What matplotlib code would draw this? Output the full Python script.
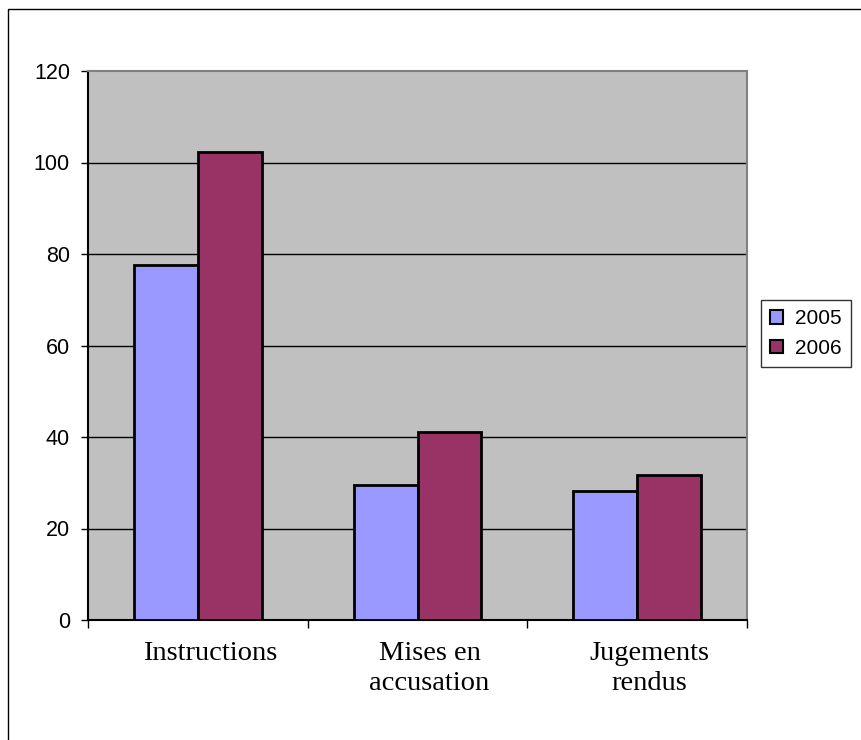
import numpy as np
import matplotlib.pyplot as plt
import matplotlib.transforms as mtransforms
from matplotlib.patches import Patch, Rectangle

# Data
categories = ['Instructions', 'Mises en\naccusation', 'Jugements\nrendus']
years = ['2005', '2006']
values_2005 = [77.6, 29.5, 28.3]
values_2006 = [102.2, 41.1, 31.8]
y_ticks = [0, 20, 40, 60, 80, 100, 120]

color_2005 = '#9999FF'
color_2006 = '#993366'

fig = plt.figure(figsize=(8.61, 7.40), dpi=100)
W, H = 861, 740

# outer frame (only top/left edges are visible in the reference)
fig.patches.append(Rectangle((8 / W, -0.1), 1.2, 1 - 9 / H + 0.1, transform=fig.transFigure,
                             fill=False, edgecolor='black', linewidth=1))

ax = fig.add_axes([88 / W, 1 - 620 / H, (747 - 88) / W, (620 - 71) / H])
ax.set_facecolor('#C0C0C0')

x = np.arange(len(categories))
w = 0.29
ax.bar(x - w / 2, values_2005, w, color=color_2005, edgecolor='black', linewidth=2, zorder=3)
ax.bar(x + w / 2, values_2006, w, color=color_2006, edgecolor='black', linewidth=2, zorder=3)

ax.set_xlim(-0.5, len(categories) - 0.5)
ax.set_ylim(0, 120)
ax.set_yticks(y_ticks)
ax.set_yticklabels([str(v) for v in y_ticks], fontsize=15.5, family='Liberation Sans')
ax.tick_params(axis='y', direction='out', length=5, width=1, pad=8)

for v in y_ticks[1:-1]:
    ax.axhline(v, color='black', linewidth=1, zorder=1)

ax.set_xticks(x)
ax.set_xticklabels(categories, fontsize=20.5, family='Liberation Serif', linespacing=1.25)
ax.tick_params(axis='x', which='major', length=0, pad=15)
ax.set_xticks(np.arange(len(categories) + 1) - 0.5, minor=True)
ax.tick_params(axis='x', which='minor', direction='out', length=6, width=1)

# category labels sit a little right of centre in the original
shift = mtransforms.ScaledTranslation(0.12, 0, fig.dpi_scale_trans)
for lbl in ax.get_xticklabels():
    lbl.set_transform(lbl.get_transform() + shift)

ax.spines['left'].set_color('black')
ax.spines['bottom'].set_color('black')
ax.spines['top'].set_color('#808080')
ax.spines['right'].set_color('#808080')
for s in ax.spines.values():
    s.set_linewidth(1.5)

handles = [Patch(facecolor=color_2005, edgecolor='black', linewidth=1.5),
           Patch(facecolor=color_2006, edgecolor='black', linewidth=1.5)]
leg = fig.legend(handles, years, loc='upper left', bbox_to_anchor=(761 / W, 1 - 300 / H),
                 borderaxespad=0, fancybox=False, frameon=True, edgecolor='black',
                 prop={'family': 'Liberation Sans', 'size': 15},
                 handlelength=0.6, handleheight=0.6, handletextpad=0.6,
                 borderpad=0.45, labelspacing=0.5)
leg.get_frame().set_linewidth(1)

fig.savefig('out.png', dpi=100)
